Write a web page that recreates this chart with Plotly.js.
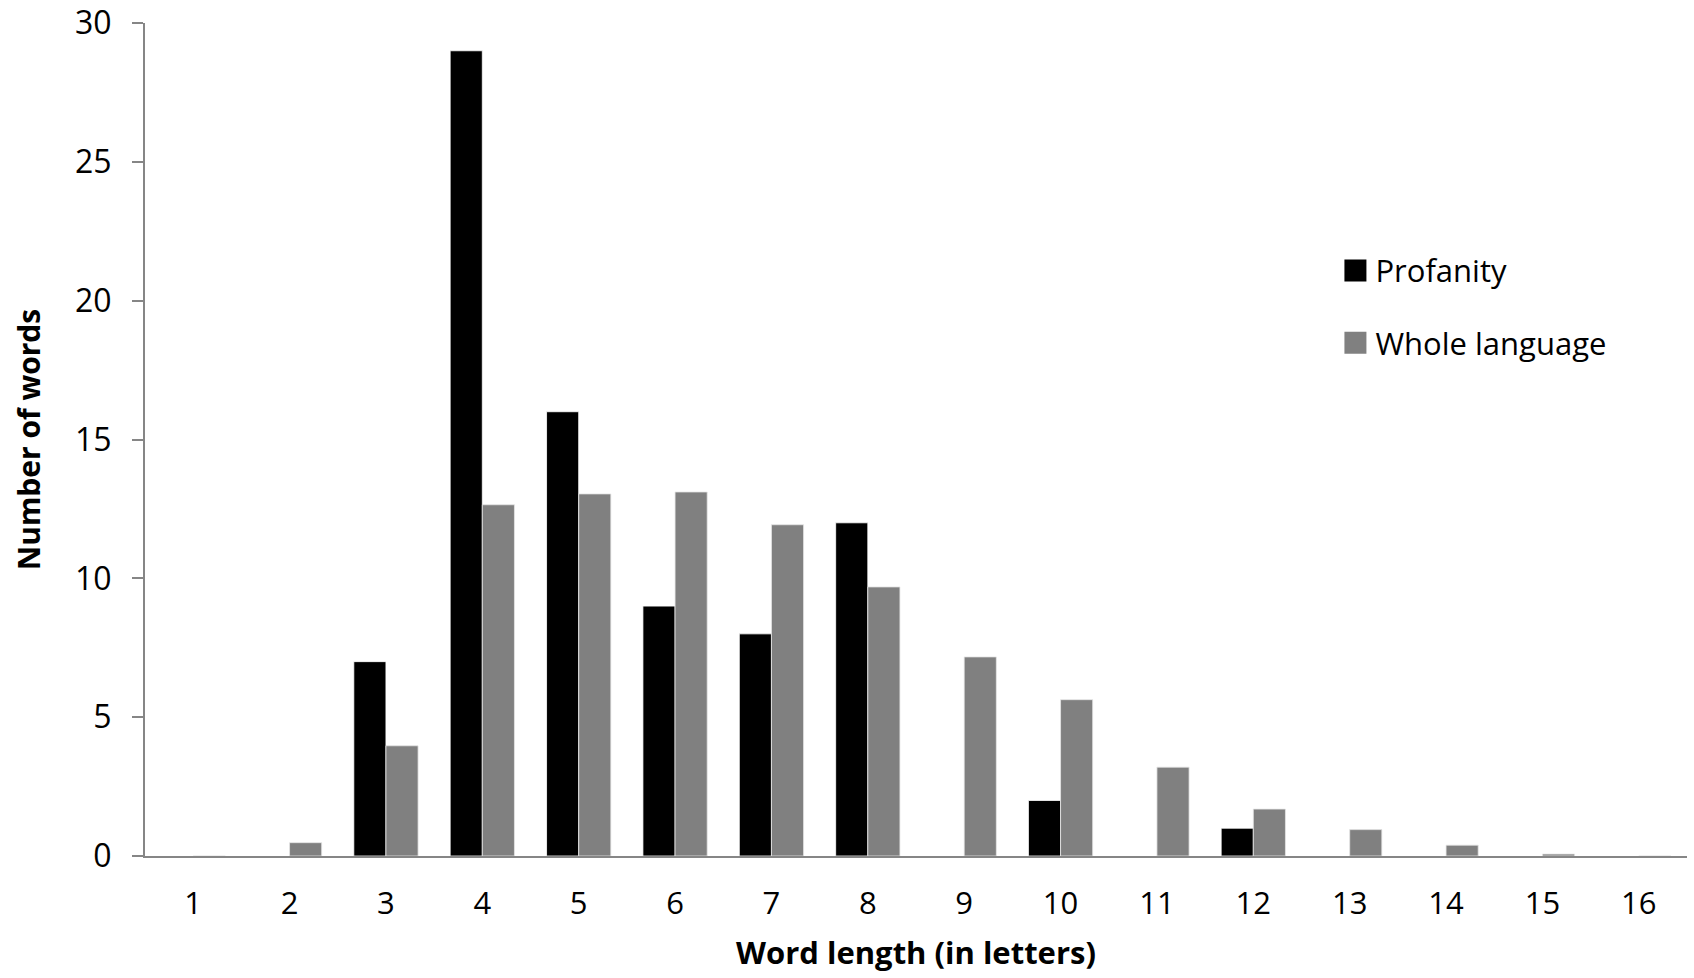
<!DOCTYPE html>
<html>
<head>
<meta charset="utf-8">
<script src="https://cdn.plot.ly/plotly-3.0.1.min.js"></script>
<style>html,body{margin:0;padding:0;background:#fff;}#chart{width:1694px;height:978px;}</style>
</head>
<body>
<div id="chart"></div>
<script>
const wordLengths = ['1','2','3','4','5','6','7','8','9','10','11','12','13','14','15','16'];
const profanity = [0, 0, 7, 29, 16, 9, 8, 12, 0, 2, 0, 1, 0, 0, 0, 0];
const wholeLanguage = [0, 0.48, 3.97, 12.65, 13.04, 13.11, 11.93, 9.69, 7.17, 5.63, 3.2, 1.69, 0.95, 0.39, 0.07, 0];
const yTicks = [0, 5, 10, 15, 20, 25, 30];

const FONT = 'Open Sans, Liberation Sans, sans-serif';

const traces = [
  {type: 'bar', name: 'Profanity', x: wordLengths, y: profanity, legendgroup: 'a',
   marker: {color: '#000000', line: {color: '#ffffff', width: 0.8}}},
  {type: 'bar', name: 'Whole language', x: wordLengths, y: wholeLanguage, legendgroup: 'b',
   marker: {color: '#808080', line: {color: '#e6e6e6', width: 0.8}}}
];

const layout = {
  width: 1694, height: 978,
  margin: {l: 145, r: 7, t: 23, b: 122},
  paper_bgcolor: '#ffffff', plot_bgcolor: '#ffffff',
  font: {family: FONT, color: '#000000', size: 31},
  barmode: 'group', bargap: 0.333, bargroupgap: 0,
  showlegend: true,
  legend: {x: 0.772, y: 0.735, xanchor: 'left', yanchor: 'top',
           font: {family: FONT, size: 31, color: '#000'},
           traceorder: 'grouped', tracegroupgap: 29,
           itemwidth: 30, bgcolor: 'rgba(0,0,0,0)'},
  xaxis: {type: 'category', range: [-0.5, 15.5], showgrid: false, zeroline: false,
          showline: true, linecolor: '#868686', linewidth: 2, ticks: '',
          ticklabelstandoff: 19,
          tickfont: {family: FONT, size: 31, color: '#000'},
          title: {text: 'Word length (in letters)', standoff: 20,
                  font: {family: FONT, size: 31, color: '#000', weight: 'bold'}}},
  yaxis: {range: [0, 30], tickvals: yTicks, showgrid: false, zeroline: false,
          showline: true, linecolor: '#868686', linewidth: 2,
          ticks: 'outside', ticklen: 11, tickwidth: 2, tickcolor: '#868686',
          ticklabelstandoff: 14,
          tickfont: {family: FONT, size: 32, color: '#000'},
          title: {text: 'Number of words', standoff: 26,
                  font: {family: FONT, size: 30, color: '#000', weight: 'bold'}}}
};

Plotly.newPlot('chart', traces, layout, {displayModeBar: false, staticPlot: true}).then(function(){
  document.querySelectorAll('.legendpoints path').forEach(function(p){
    p.setAttribute('d', 'M11,11H-11V-11H11Z');
    p.style.strokeWidth = '0px';
  });
});
</script>
</body>
</html>
